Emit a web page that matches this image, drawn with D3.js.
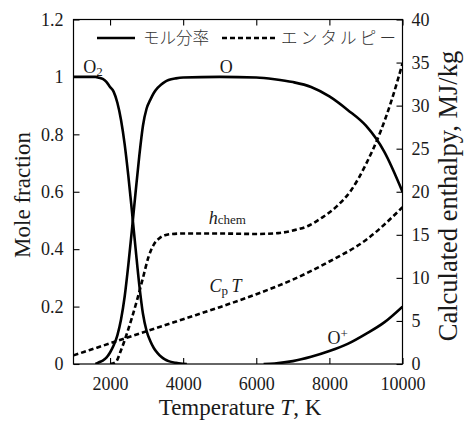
<!DOCTYPE html>
<html>
<head>
<meta charset="utf-8">
<script src="https://cdn.jsdelivr.net/npm/d3@7"></script>
<style>
  html, body { margin: 0; padding: 0; background: #fff; }
  svg { display: block; }
  svg text { font-family: "Liberation Serif", "DejaVu Serif", serif; }
  svg text.cjk { font-family: "Noto Sans CJK JP", "Noto Sans CJK SC", sans-serif; }
</style>
</head>
<body>
<svg id="chart" width="466" height="422"></svg>
<script>
// Temperature grid (K) and mole fractions
const tempO2 = [1000, 1600, 1700, 1800, 1900, 2000, 2100, 2200, 2300, 2400, 2500, 2600, 2700, 2800, 2900, 3000, 3100, 3200, 3300, 3400, 3500, 3600, 3800, 4000, 4100];
const moleO2 = [1, 1, 0.997, 0.993, 0.983, 0.965, 0.948, 0.91, 0.85, 0.765, 0.655, 0.53, 0.4, 0.275, 0.175, 0.115, 0.08, 0.055, 0.038, 0.025, 0.016, 0.01, 0.004, 0.001, 0];

const tempO = [1600, 1700, 1800, 1900, 2000, 2100, 2200, 2300, 2400, 2500, 2600, 2700, 2800, 2900, 3000, 3100, 3200, 3300, 3400, 3500, 3600, 3800, 4000, 5000, 6000, 6500, 7000, 7500, 8000, 8500, 9000, 9500, 10000];
const moleO  = [0, 0.006, 0.012, 0.022, 0.04, 0.065, 0.1, 0.155, 0.235, 0.345, 0.47, 0.6, 0.725, 0.83, 0.89, 0.92, 0.945, 0.962, 0.974, 0.983, 0.989, 0.995, 0.998, 1.0, 0.998, 0.992, 0.982, 0.965, 0.932, 0.885, 0.83, 0.74, 0.6];

const tempOp = [6200, 6500, 7000, 7500, 8000, 8500, 9000, 9500, 10000];
const moleOp = [0, 0.002, 0.01, 0.025, 0.045, 0.07, 0.105, 0.145, 0.2];

// Enthalpies (MJ/kg)
const tempHchem = [2000, 2150, 2300, 2450, 2600, 2750, 2900, 3050, 3200, 3350, 3500, 3700, 4000, 5000, 6000, 6600, 7000, 7400, 7800, 8200, 8600, 9000, 9400, 9700, 10000];
const hChem     = [0, 0.2, 1.6, 3.4, 5.4, 7.6, 10.0, 12.4, 13.9, 14.6, 14.95, 15.1, 15.15, 15.15, 15.1, 15.2, 15.5, 16.0, 17.0, 18.3, 20.2, 23.2, 27.0, 30.6, 34.9];

const tempCpT = [1000, 2000, 3000, 4000, 5000, 6000, 7000, 8000, 9000, 10000];
const hCpT    = [1.0, 2.4, 3.8, 5.2, 6.6, 8.1, 9.8, 11.9, 14.4, 18.2];

// Axis ticks
const xTicks = [2000, 4000, 6000, 8000, 10000];
const yLeftTicks = [0, 0.2, 0.4, 0.6, 0.8, 1, 1.2];
const yRightTicks = [0, 5, 10, 15, 20, 25, 30, 35, 40];

// Legend labels
const legendLabels = ["モル分率", "エンタルピー"];

const svg = d3.select("#chart");
const plot = { left: 73.5, right: 402.5, top: 19.5, bottom: 364 };

const x = d3.scaleLinear().domain([1000, 10000]).range([plot.left, plot.right]);
const yL = d3.scaleLinear().domain([0, 1.2]).range([plot.bottom, plot.top]);
const yR = d3.scaleLinear().domain([0, 40]).range([plot.bottom, plot.top]);

const ink = "#1a1a1a";

// Frame
svg.append("rect")
  .attr("x", plot.left).attr("y", plot.top)
  .attr("width", plot.right - plot.left).attr("height", plot.bottom - plot.top)
  .attr("fill", "none").attr("stroke", "#000").attr("stroke-width", 1.2);

const tickLen = 6;
function styleAxis(g) {
  g.attr("font-family", null).attr("font-size", null);
  g.select(".domain").remove();
  g.selectAll(".tick line").attr("stroke", "#000").attr("stroke-width", 1.1);
  g.selectAll(".tick text").style("font-size", "18px").attr("fill", ink);
}

// Bottom axis (inward ticks)
svg.append("g")
  .attr("transform", `translate(0,${plot.bottom})`)
  .call(d3.axisBottom(x).tickValues(xTicks).tickSizeInner(-tickLen).tickSizeOuter(0).tickPadding(13.5).tickFormat(d3.format("d")))
  .call(styleAxis);

// Top axis ticks only
svg.append("g")
  .attr("transform", `translate(0,${plot.top})`)
  .call(d3.axisTop(x).tickValues(xTicks).tickSizeInner(-tickLen).tickSizeOuter(0).tickFormat(""))
  .call(styleAxis);

// Left axis
svg.append("g")
  .attr("transform", `translate(${plot.left},0)`)
  .call(d3.axisLeft(yL).tickValues(yLeftTicks).tickSizeInner(-tickLen).tickSizeOuter(0).tickPadding(10).tickFormat(d => String(+d.toFixed(1))))
  .call(styleAxis);

// Right axis
svg.append("g")
  .attr("transform", `translate(${plot.right},0)`)
  .call(d3.axisRight(yR).tickValues(yRightTicks).tickSizeInner(-tickLen).tickSizeOuter(0).tickPadding(9))
  .call(styleAxis);

// Curves
const lineMole = d3.line().x(d => x(d[0])).y(d => yL(d[1])).curve(d3.curveMonotoneX);
const lineH = d3.line().x(d => x(d[0])).y(d => yR(d[1])).curve(d3.curveMonotoneX);

svg.append("clipPath").attr("id", "plotClip")
  .append("rect").attr("x", plot.left).attr("y", plot.top)
  .attr("width", plot.right - plot.left).attr("height", plot.bottom - plot.top);

const curves = svg.append("g").attr("clip-path", "url(#plotClip)");

function solid(path) {
  curves.append("path").attr("d", path).attr("fill", "none")
    .attr("stroke", "#000").attr("stroke-width", 2.6).attr("stroke-linejoin", "round");
}
function dashed(path) {
  curves.append("path").attr("d", path).attr("fill", "none")
    .attr("stroke", "#000").attr("stroke-width", 2.6).attr("stroke-dasharray", "5,3");
}

dashed(lineH(d3.zip(tempCpT, hCpT)));
dashed(lineH(d3.zip(tempHchem, hChem)));
solid(lineMole(d3.zip(tempO2, moleO2)));
solid(lineMole(d3.zip(tempO, moleO)));
solid(lineMole(d3.zip(tempOp, moleOp)));

// Curve labels
function label(px, py, parts) {
  const t = svg.append("text").attr("x", px).attr("y", py)
    .style("font-size", "18px").attr("fill", ink);
  parts.forEach(p => {
    const s = t.append("tspan").text(p.text);
    if (p.italic) s.style("font-style", "italic");
    if (p.size) s.style("font-size", p.size + "px");
    if (p.dy) s.attr("dy", p.dy);
  });
  return t;
}
label(x(1270), yL(1.015), [{ text: "O" }, { text: "2", size: 13, dy: 3 }]);
label(x(5000), yL(1.015), [{ text: "O" }]);
label(x(7950), yL(0.068), [{ text: "O" }, { text: "+", size: 13, dy: -6 }]);
label(x(4700), yR(16.2), [{ text: "h", italic: true }, { text: "chem", size: 13 }]);
label(x(4720), yR(8.4), [{ text: "C", italic: true }, { text: "p", size: 13, dy: 3 }, { text: "\u2009" }, { text: "T", italic: true, dy: -3 }]);

// Legend
const legY = 38;
svg.append("line").attr("x1", 97).attr("x2", 135).attr("y1", legY).attr("y2", legY)
  .attr("stroke", "#000").attr("stroke-width", 2.6);
svg.append("text").attr("class", "cjk").attr("x", 143).attr("y", legY + 6)
  .style("font-size", "16.5px").style("font-weight", 300).attr("fill", "#333").text(legendLabels[0]);
svg.append("line").attr("x1", 222).attr("x2", 275).attr("y1", legY).attr("y2", legY)
  .attr("stroke", "#000").attr("stroke-width", 2.6).attr("stroke-dasharray", "5,3");
svg.append("text").attr("class", "cjk").attr("x", 281).attr("y", legY + 6)
  .style("font-size", "16.5px").style("font-weight", 300).style("letter-spacing", "3.2px").attr("fill", "#333").text(legendLabels[1]);

// Axis titles
svg.append("text")
  .attr("transform", `translate(30,195) rotate(-90)`)
  .attr("text-anchor", "middle").style("font-size", "23px").attr("fill", ink)
  .text("Mole fraction");

svg.append("text")
  .attr("transform", `translate(457,196) rotate(-90)`)
  .attr("text-anchor", "middle").style("font-size", "26.5px").attr("fill", ink)
  .text("Calculated enthalpy, MJ/kg");

const xt = svg.append("text")
  .attr("x", 240).attr("y", 415)
  .attr("text-anchor", "middle").style("font-size", "23px").attr("fill", ink);
xt.append("tspan").text("Temperature ");
xt.append("tspan").style("font-style", "italic").text("T");
xt.append("tspan").text(", K");
</script>
</body>
</html>
